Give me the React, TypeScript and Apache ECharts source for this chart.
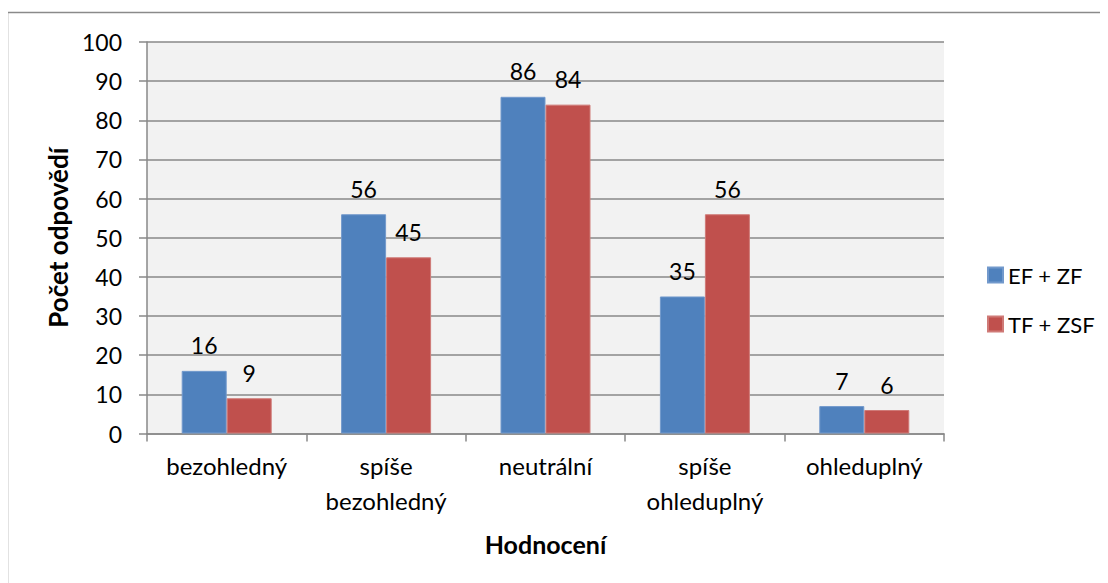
import React, { useEffect, useRef } from "react";
import * as echarts from "echarts";

const categories = ["bezohledný", "spíše\nbezohledný", "neutrální", "spíše\nohleduplný", "ohleduplný"];
const seriesNames = ["EF + ZF", "TF + ZSF"];
const efZf = [16, 56, 86, 35, 7];
const tfZsf = [9, 45, 84, 56, 6];
const yTicks = { min: 0, max: 100, interval: 10 };

const FONT = "Lato, 'Open Sans', sans-serif";
const LINE = "#898989";

export default function App() {
  const ref = useRef<HTMLDivElement>(null);
  useEffect(() => {
    if (!ref.current) return;
    const chart = echarts.init(ref.current, null, { renderer: "svg" });
    const labelCfg = {
      show: true,
      position: "top",
      distance: 14,
      color: "#000",
      fontSize: 23,
      fontFamily: FONT,
    };
    chart.setOption({
      animation: false,
      backgroundColor: "#fff",
      textStyle: { fontFamily: FONT },
      graphic: [
        {
          type: "rect",
          shape: { x: -0.5, y: 4.5, width: 1300, height: 1000 },
          style: { fill: "none", stroke: "#8a8a8a", lineWidth: 1.5 },
          silent: true,
        },
      ],
      grid: {
        left: 139,
        top: 34,
        right: 164,
        bottom: 149.5,
        show: true,
        backgroundColor: "#f2f2f2",
        borderWidth: 0,
      },
      legend: {
        orient: "vertical",
        left: 979,
        top: 256,
        padding: 0,
        itemWidth: 15,
        itemHeight: 15,
        itemGap: 27,
        icon: "rect",
        textStyle: { fontSize: 22, color: "#000", fontFamily: FONT, lineHeight: 22 },
        data: seriesNames,
      },
      xAxis: {
        type: "category",
        data: categories,
        name: "Hodnocení",
        nameLocation: "middle",
        nameGap: 98,
        nameTextStyle: { fontSize: 25, fontWeight: "bold", color: "#000", fontFamily: FONT },
        axisLine: { show: true, lineStyle: { color: LINE, width: 1.5 } },
        axisTick: { show: true, length: 8, alignWithLabel: false, lineStyle: { color: LINE, width: 1.5 } },
        axisLabel: { fontSize: 24, lineHeight: 35, color: "#000", margin: 14, fontFamily: FONT, interval: 0 },
      },
      yAxis: {
        type: "value",
        min: yTicks.min,
        max: yTicks.max,
        interval: yTicks.interval,
        name: "Počet odpovědí",
        nameLocation: "middle",
        nameRotate: 90,
        nameGap: 75,
        nameTextStyle: { fontSize: 26, fontWeight: "bold", color: "#000", fontFamily: FONT },
        axisLine: { show: true, lineStyle: { color: LINE, width: 1.5 } },
        axisTick: { show: true, length: 8, lineStyle: { color: LINE, width: 1.5 } },
        axisLabel: { fontSize: 23, color: "#000", margin: 25, fontFamily: FONT },
        splitLine: { show: true, lineStyle: { color: LINE, width: 1.5 } },
      },
      series: [
        {
          name: seriesNames[0],
          type: "bar",
          data: efZf,
          barWidth: 45,
          barGap: "0%",
          itemStyle: { color: "#4F81BD", borderColor: "#7299cc", borderWidth: 1 },
          label: labelCfg,
        },
        {
          name: seriesNames[1],
          type: "bar",
          data: tfZsf,
          barWidth: 45,
          barGap: "0%",
          itemStyle: { color: "#C0504D", borderColor: "#cf7a77", borderWidth: 1 },
          label: labelCfg,
        },
      ],
    });
    return () => chart.dispose();
  }, []);
  return <div ref={ref} style={{ width: 1100, height: 575 }} />;
}
